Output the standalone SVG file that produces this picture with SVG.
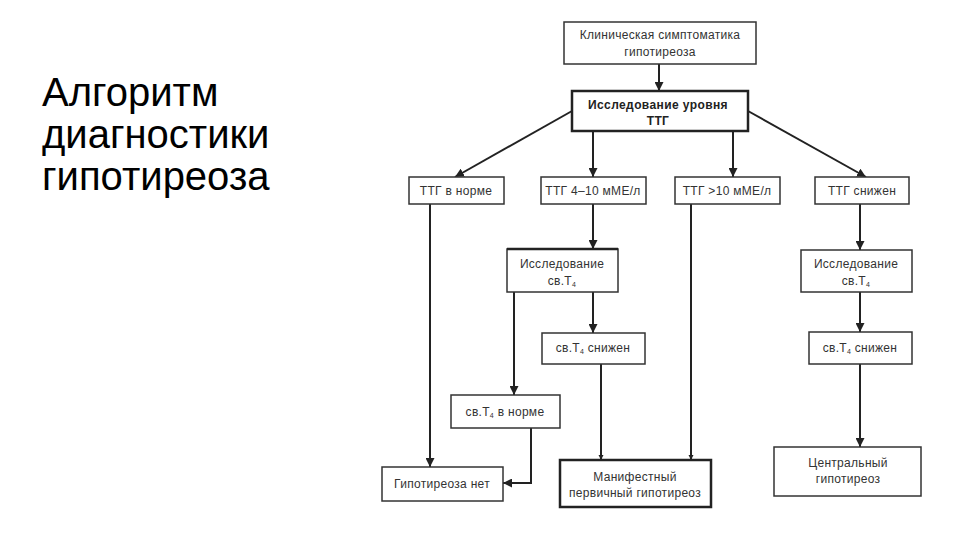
<svg xmlns="http://www.w3.org/2000/svg" width="960" height="540" viewBox="0 0 960 540">
<defs>
<style>
.bx{fill:#fff;stroke:#333;stroke-width:1.5}
.bk{fill:#fff;stroke:#222;stroke-width:2.5}
.t{font-family:"Liberation Sans",Arial,sans-serif;font-size:12px;fill:#333;text-anchor:middle;letter-spacing:0.3px}
.tb{font-family:"Liberation Sans",Arial,sans-serif;font-size:12px;font-weight:bold;fill:#222;text-anchor:middle;letter-spacing:0.4px}
.sub{font-size:7px}
.ln{fill:none;stroke:#222;stroke-width:2}
.ttl{font-family:"Liberation Sans",Arial,sans-serif;font-size:40px;fill:#000}
</style>
<marker id="ah" viewBox="0 0 10 10" refX="10" refY="5" markerWidth="9" markerHeight="9" markerUnits="userSpaceOnUse" orient="auto">
<path d="M0,0 L10,5 L0,10 z" fill="#222"/>
</marker>
<marker id="as" viewBox="0 0 10 10" refX="10" refY="5" markerWidth="5" markerHeight="6" markerUnits="userSpaceOnUse" orient="auto">
<path d="M0,0 L10,5 L0,10 z" fill="#222"/>
</marker>
</defs>
<rect width="960" height="540" fill="#fff"/>
<g id="title">
<text class="ttl" x="42" y="106">Алгоритм</text>
<text class="ttl" x="42" y="148">диагностики</text>
<text class="ttl" x="42" y="190">гипотиреоза</text>
</g>
<g id="connectors">
<line class="ln" x1="659" y1="64" x2="659" y2="91" marker-end="url(#ah)"/>
<line class="ln" x1="572" y1="111" x2="455" y2="177" marker-end="url(#ah)"/>
<line class="ln" x1="593" y1="131" x2="593" y2="177" marker-end="url(#ah)"/>
<line class="ln" x1="733" y1="131" x2="733" y2="177" marker-end="url(#ah)"/>
<line class="ln" x1="748" y1="111" x2="866" y2="177" marker-end="url(#ah)"/>
<line class="ln" x1="430" y1="204" x2="430" y2="467" marker-end="url(#ah)"/>
<line class="ln" x1="593" y1="204" x2="593" y2="249" marker-end="url(#ah)"/>
<line class="ln" x1="514" y1="292" x2="514" y2="395" marker-end="url(#ah)"/>
<line class="ln" x1="593" y1="292" x2="593" y2="333" marker-end="url(#ah)"/>
<polyline class="ln" points="531,428 531,483 503,483" marker-end="url(#ah)"/>
<line class="ln" x1="601" y1="364" x2="601" y2="460" marker-end="url(#as)"/>
<line class="ln" x1="691" y1="204" x2="691" y2="460" marker-end="url(#as)"/>
<line class="ln" x1="860" y1="204" x2="860" y2="250" marker-end="url(#ah)"/>
<line class="ln" x1="860" y1="292" x2="860" y2="332" marker-end="url(#ah)"/>
<line class="ln" x1="860" y1="364" x2="860" y2="447" marker-end="url(#ah)"/>
</g>
<g id="n1">
<rect class="bx" x="564" y="22" width="192" height="42"/>
<text class="t" x="660" y="39">Клиническая симптоматика</text>
<text class="t" x="660" y="56">гипотиреоза</text>
</g>
<g id="n2">
<rect class="bk" x="572" y="91" width="176" height="40"/>
<text class="tb" x="658" y="109">Исследование уровня</text>
<text class="tb" x="658" y="125">ТТГ</text>
</g>
<g id="n3">
<rect class="bx" x="409" y="177" width="95" height="27"/>
<text class="t" x="456" y="195">ТТГ в норме</text>
</g>
<g id="n4">
<rect class="bx" x="541" y="177" width="105" height="27"/>
<text class="t" x="593" y="195">ТТГ 4–10 мМЕ/л</text>
</g>
<g id="n5">
<rect class="bx" x="675" y="177" width="105" height="27"/>
<text class="t" x="727" y="195">ТТГ &gt;10 мМЕ/л</text>
</g>
<g id="n6">
<rect class="bx" x="815" y="177" width="94" height="27"/>
<text class="t" x="862" y="195">ТТГ снижен</text>
</g>
<g id="n7">
<rect class="bx" x="507" y="249" width="111" height="43"/>
<line x1="507" y1="249" x2="618" y2="249" stroke="#222" stroke-width="2.5"/>
<text class="t" x="562" y="268">Исследование</text>
<text class="t" x="562" y="285">св.Т<tspan class="sub" dy="2">4</tspan></text>
</g>
<g id="n8">
<rect class="bx" x="801" y="250" width="111" height="42"/>
<text class="t" x="856" y="268">Исследование</text>
<text class="t" x="856" y="285">св.Т<tspan class="sub" dy="2">4</tspan></text>
</g>
<g id="n9">
<rect class="bx" x="542" y="333" width="103" height="31"/>
<text class="t" x="593" y="352">св.Т<tspan class="sub" dy="2">4</tspan><tspan dy="-2"> снижен</tspan></text>
</g>
<g id="n10">
<rect class="bx" x="809" y="332" width="103" height="32"/>
<text class="t" x="860" y="352">св.Т<tspan class="sub" dy="2">4</tspan><tspan dy="-2"> снижен</tspan></text>
</g>
<g id="n11">
<rect class="bx" x="451" y="395" width="109" height="33"/>
<text class="t" x="505" y="416">св.Т<tspan class="sub" dy="2">4</tspan><tspan dy="-2"> в норме</tspan></text>
</g>
<g id="n12">
<rect class="bx" x="382" y="467" width="121" height="34"/>
<text class="t" x="442" y="488">Гипотиреоза нет</text>
</g>
<g id="n13">
<rect class="bk" x="560" y="460" width="151" height="47"/>
<text class="t" x="635" y="481">Манифестный</text>
<text class="t" x="635" y="497">первичный гипотиреоз</text>
</g>
<g id="n14">
<rect class="bx" x="774" y="447" width="147" height="49"/>
<text class="t" x="848" y="467">Центральный</text>
<text class="t" x="848" y="483">гипотиреоз</text>
</g>
</svg>
